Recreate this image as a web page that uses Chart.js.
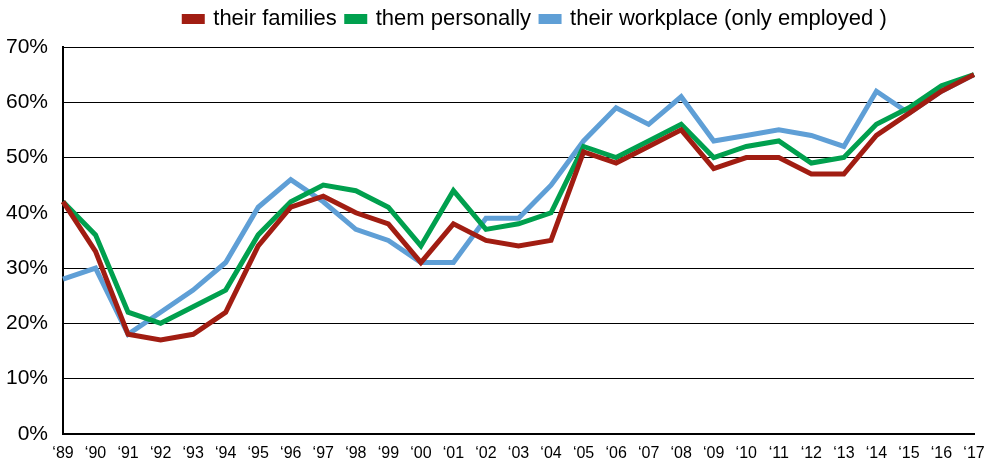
<!DOCTYPE html>
<html>
<head>
<meta charset="utf-8">
<script src="https://cdn.jsdelivr.net/npm/chart.js@4.4.1/dist/chart.umd.min.js"></script>
<style>
  html, body { margin: 0; padding: 0; background: #fff; }
  #wrap { width: 990px; height: 467px; position: relative; }
</style>
</head>
<body>
<div id="wrap"><canvas id="chart"></canvas></div>
<script>
// Years on the x axis
const YEARS = ['‘89','‘90','‘91','‘92','‘93','‘94','‘95','‘96','‘97','‘98','‘99','‘00','‘01','‘02',
  '‘03','‘04','‘05','‘06','‘07','‘08','‘09','‘10','‘11','‘12','‘13','‘14','‘15','‘16','‘17'];

// Share worried (%)
const FAMILIES   = [42,33,18,17,18,22,34,41,43,40,38,31,38,35,34,35,51,49,52,55,48,50,50,47,47,54,58,62,65];
const PERSONALLY = [42,36,22,20,23,26,36,42,45,44,41,34,44,37,38,40,52,50,53,56,50,52,53,49,50,56,59,63,65];
const WORKPLACE  = [28,30,18,22,26,31,41,46,42,37,35,31,31,39,39,45,53,59,56,61,53,54,55,54,52,62,58,62,65];

const SERIES_NAMES = ['their families', 'them personally', 'their workplace (only employed )'];
const COLORS = ['#a11d12', '#00a04e', '#5f9fd6'];

const FONT = '"Liberation Sans", Arial, sans-serif';

const datasets = [FAMILIES, PERSONALLY, WORKPLACE].map((d, i) => ({
  label: SERIES_NAMES[i],
  data: d,
  borderColor: COLORS[i],
  backgroundColor: COLORS[i],
  borderWidth: 5,
  pointRadius: 0,
  tension: 0,
  order: i + 1, // families drawn on top
}));

// nudge the legend a bit right and up, like the original
const legendNudge = {
  id: 'legendNudge',
  afterLayout(chart) {
    const lg = chart.legend;
    if (!lg) return;
    lg.left += 17; lg.right += 17;
    lg.top -= 7; lg.bottom -= 7;
  },
};

new Chart(document.getElementById('chart'), {
  type: 'line',
  data: { labels: YEARS, datasets },
  plugins: [legendNudge],
  options: {
    responsive: true,
    maintainAspectRatio: false,
    animation: false,
    layout: { padding: { left: 0, right: 16, top: 5, bottom: 0 } },
    plugins: {
      tooltip: { enabled: false },
      legend: {
        position: 'top',
        fullSize: false,
        labels: {
          color: '#000',
          font: { family: FONT, size: 22 },
          boxWidth: 18,
          boxHeight: 5,
          padding: 10,
          sort: (a, b) => a.datasetIndex - b.datasetIndex,
        },
      },
    },
    scales: {
      x: {
        grid: { display: false, drawOnChartArea: false, drawTicks: true, tickLength: 6, color: '#000' },
        border: { display: true, color: '#000', width: 2 },
        ticks: {
          color: '#000',
          font: { family: FONT, size: 16 },
          maxRotation: 0,
          autoSkip: false,
          padding: 4,
        },
      },
      y: {
        min: 0,
        max: 70,
        afterFit: s => { s.width = 63; },
        grid: { color: '#000', lineWidth: 1, drawTicks: false },
        border: { display: true, color: '#000', width: 2 },
        ticks: {
          stepSize: 10,
          color: '#000',
          font: { family: FONT, size: 21 },
          padding: 15,
          callback: v => v + '%',
        },
      },
    },
  },
});
</script>
</body>
</html>
